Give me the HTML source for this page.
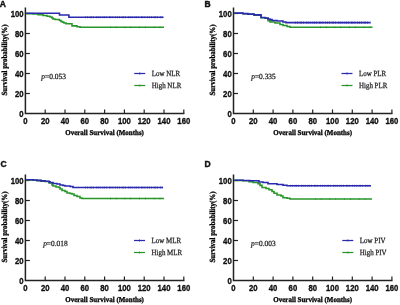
<!DOCTYPE html>
<html><head><meta charset="utf-8">
<style>
html,body{margin:0;padding:0;background:#fff;width:400px;height:305px;overflow:hidden;}
svg{display:block;}
.lg,.ttl{text-rendering:geometricPrecision;}
#w{position:absolute;left:0;top:0;width:400px;height:305px;will-change:transform;}
.tk{font-family:"Liberation Sans",sans-serif;font-weight:bold;font-size:9px;fill:#111;stroke:#111;stroke-width:0.35px;}
.lt{font-family:"Liberation Sans",sans-serif;font-weight:bold;font-size:8.5px;fill:#111;stroke:#111;stroke-width:0.4px;}
.ttl{font-family:"Liberation Serif",serif;font-weight:bold;font-size:7.5px;fill:#000;stroke:#000;stroke-width:0.3px;}
.lg{font-family:"Liberation Serif",serif;font-size:7.9px;fill:#222;stroke:#222;stroke-width:0.25px;}
</style></head><body><div id="w">
<svg width="400" height="305" viewBox="0 0 400 305">
<g>
<g transform="translate(-0.20,6.60) scale(1.0,1)"><text class="lt" x="0" y="0" text-anchor="start">A</text></g>
<path d="M25.4,7.5 V113.5 H184.4" fill="none" stroke="#222" stroke-width="1.5"/>
<g transform="translate(23.60,116.70) scale(0.86,1)"><text class="tk" x="0" y="0" text-anchor="end">0</text></g>
<path d="M25.4,93.5 H29.9" stroke="#222" stroke-width="1.2"/>
<g transform="translate(23.60,96.70) scale(0.86,1)"><text class="tk" x="0" y="0" text-anchor="end">20</text></g>
<path d="M25.4,73.5 H29.9" stroke="#222" stroke-width="1.2"/>
<g transform="translate(23.60,76.70) scale(0.86,1)"><text class="tk" x="0" y="0" text-anchor="end">40</text></g>
<path d="M25.4,53.5 H29.9" stroke="#222" stroke-width="1.2"/>
<g transform="translate(23.60,56.70) scale(0.86,1)"><text class="tk" x="0" y="0" text-anchor="end">60</text></g>
<path d="M25.4,33.5 H29.9" stroke="#222" stroke-width="1.2"/>
<g transform="translate(23.60,36.70) scale(0.86,1)"><text class="tk" x="0" y="0" text-anchor="end">80</text></g>
<path d="M25.4,13.5 H29.9" stroke="#222" stroke-width="1.2"/>
<g transform="translate(23.60,16.70) scale(0.86,1)"><text class="tk" x="0" y="0" text-anchor="end">100</text></g>
<g transform="translate(25.40,123.65) scale(0.86,1)"><text class="tk" x="0" y="0" text-anchor="middle">0</text></g>
<path d="M45.2,113.5 V109.5" stroke="#222" stroke-width="1.2"/>
<g transform="translate(45.20,123.65) scale(0.86,1)"><text class="tk" x="0" y="0" text-anchor="middle">20</text></g>
<path d="M65.0,113.5 V109.5" stroke="#222" stroke-width="1.2"/>
<g transform="translate(65.00,123.65) scale(0.86,1)"><text class="tk" x="0" y="0" text-anchor="middle">40</text></g>
<path d="M84.8,113.5 V109.5" stroke="#222" stroke-width="1.2"/>
<g transform="translate(84.80,123.65) scale(0.86,1)"><text class="tk" x="0" y="0" text-anchor="middle">60</text></g>
<path d="M104.6,113.5 V109.5" stroke="#222" stroke-width="1.2"/>
<g transform="translate(104.60,123.65) scale(0.86,1)"><text class="tk" x="0" y="0" text-anchor="middle">80</text></g>
<path d="M124.4,113.5 V109.5" stroke="#222" stroke-width="1.2"/>
<g transform="translate(124.40,123.65) scale(0.86,1)"><text class="tk" x="0" y="0" text-anchor="middle">100</text></g>
<path d="M144.2,113.5 V109.5" stroke="#222" stroke-width="1.2"/>
<g transform="translate(144.20,123.65) scale(0.86,1)"><text class="tk" x="0" y="0" text-anchor="middle">120</text></g>
<path d="M164.0,113.5 V109.5" stroke="#222" stroke-width="1.2"/>
<g transform="translate(164.00,123.65) scale(0.86,1)"><text class="tk" x="0" y="0" text-anchor="middle">140</text></g>
<path d="M183.8,113.5 V109.5" stroke="#222" stroke-width="1.2"/>
<g transform="translate(183.80,123.65) scale(0.86,1)"><text class="tk" x="0" y="0" text-anchor="middle">160</text></g>
<path d="M26.15,13.6 H33 V14 H38 V14.8 H43 V15.5 H47 V16.3 H50 V17 H52 V18 H53 V19 H55 V19.5 H59.5 V20.5 H61 V21.5 H62.5 V22.3 H64 V23 H66 V23.8 H72 V25.9 H77 V26.8 H80 V27.2 H164" fill="none" stroke="#289628" stroke-width="1.6"/>
<path d="M26.15,13.3 H59.5 V15 H68.9 V17.2 H163.5" fill="none" stroke="#2a2aae" stroke-width="1.6"/>
<path d="M85,17.2 H163.5" fill="none" stroke="#2a2aae" stroke-width="2.1" stroke-dasharray="0.6 1.4 0.6 2.2 0.6 1.0"/>
<path d="M110,27.2 H164" fill="none" stroke="#289628" stroke-width="2.0" stroke-dasharray="0.6 5.3 0.6 8.1"/>
<g transform="translate(104.60,135.10) scale(0.93,1)"><text class="ttl" x="0" y="0" text-anchor="middle">Overall Survival (Months)</text></g>
<g transform="translate(6.90,60.00) rotate(-90) scale(0.875,1)"><text class="ttl" x="0" y="0" text-anchor="middle" style="font-size:7.9px">Survival probability(%)</text></g>
<g transform="translate(41.35,79.00) scale(0.94,1)"><text class="lg" x="0" y="0" text-anchor="start"><tspan font-style="italic">p</tspan>=0.053</text></g>
<path d="M134.25,73.5 H145.25" stroke="#2a2aae" stroke-width="1.25"/>
<path d="M139.75,72.2 V74.8" stroke="#2a2aae" stroke-width="0.6"/>
<path d="M134.25,85.5 H145.25" stroke="#289628" stroke-width="1.25"/>
<path d="M139.75,84.3 V86.7" stroke="#289628" stroke-width="0.6"/>
<g transform="translate(151.75,76.10) scale(0.88,1)"><text class="lg" x="0" y="0" text-anchor="start">Low NLR</text></g>
<g transform="translate(151.75,88.10) scale(0.88,1)"><text class="lg" x="0" y="0" text-anchor="start">High NLR</text></g>
</g>
<g>
<g transform="translate(204.40,6.70) scale(1.0,1)"><text class="lt" x="0" y="0" text-anchor="start">B</text></g>
<path d="M233.5,7.5 V113.5 H392.5" fill="none" stroke="#222" stroke-width="1.5"/>
<g transform="translate(231.70,116.70) scale(0.86,1)"><text class="tk" x="0" y="0" text-anchor="end">0</text></g>
<path d="M233.5,93.5 H238.0" stroke="#222" stroke-width="1.2"/>
<g transform="translate(231.70,96.70) scale(0.86,1)"><text class="tk" x="0" y="0" text-anchor="end">20</text></g>
<path d="M233.5,73.5 H238.0" stroke="#222" stroke-width="1.2"/>
<g transform="translate(231.70,76.70) scale(0.86,1)"><text class="tk" x="0" y="0" text-anchor="end">40</text></g>
<path d="M233.5,53.5 H238.0" stroke="#222" stroke-width="1.2"/>
<g transform="translate(231.70,56.70) scale(0.86,1)"><text class="tk" x="0" y="0" text-anchor="end">60</text></g>
<path d="M233.5,33.5 H238.0" stroke="#222" stroke-width="1.2"/>
<g transform="translate(231.70,36.70) scale(0.86,1)"><text class="tk" x="0" y="0" text-anchor="end">80</text></g>
<path d="M233.5,13.5 H238.0" stroke="#222" stroke-width="1.2"/>
<g transform="translate(231.70,16.70) scale(0.86,1)"><text class="tk" x="0" y="0" text-anchor="end">100</text></g>
<g transform="translate(233.50,123.65) scale(0.86,1)"><text class="tk" x="0" y="0" text-anchor="middle">0</text></g>
<path d="M253.3,113.5 V109.5" stroke="#222" stroke-width="1.2"/>
<g transform="translate(253.30,123.65) scale(0.86,1)"><text class="tk" x="0" y="0" text-anchor="middle">20</text></g>
<path d="M273.1,113.5 V109.5" stroke="#222" stroke-width="1.2"/>
<g transform="translate(273.10,123.65) scale(0.86,1)"><text class="tk" x="0" y="0" text-anchor="middle">40</text></g>
<path d="M292.9,113.5 V109.5" stroke="#222" stroke-width="1.2"/>
<g transform="translate(292.90,123.65) scale(0.86,1)"><text class="tk" x="0" y="0" text-anchor="middle">60</text></g>
<path d="M312.7,113.5 V109.5" stroke="#222" stroke-width="1.2"/>
<g transform="translate(312.70,123.65) scale(0.86,1)"><text class="tk" x="0" y="0" text-anchor="middle">80</text></g>
<path d="M332.5,113.5 V109.5" stroke="#222" stroke-width="1.2"/>
<g transform="translate(332.50,123.65) scale(0.86,1)"><text class="tk" x="0" y="0" text-anchor="middle">100</text></g>
<path d="M352.3,113.5 V109.5" stroke="#222" stroke-width="1.2"/>
<g transform="translate(352.30,123.65) scale(0.86,1)"><text class="tk" x="0" y="0" text-anchor="middle">120</text></g>
<path d="M372.1,113.5 V109.5" stroke="#222" stroke-width="1.2"/>
<g transform="translate(372.10,123.65) scale(0.86,1)"><text class="tk" x="0" y="0" text-anchor="middle">140</text></g>
<path d="M391.9,113.5 V109.5" stroke="#222" stroke-width="1.2"/>
<g transform="translate(391.90,123.65) scale(0.86,1)"><text class="tk" x="0" y="0" text-anchor="middle">160</text></g>
<path d="M234.25,13.3 H243 V13.8 H248 V14.3 H254 V15.1 H261 V17.7 H265 V18.3 H268 V20.8 H270 V22 H275 V23 H280 V24.5 H283 V25.5 H287 V26.5 H290 V27.2 H372.5" fill="none" stroke="#289628" stroke-width="1.6"/>
<path d="M234.25,13.1 H243 V13.6 H248 V14.1 H254 V14.9 H261 V17.5 H265 V18 H268 V19 H270 V19.6 H272 V20.5 H277 V21 H283 V22 H286 V22.6 H370.5" fill="none" stroke="#2a2aae" stroke-width="1.6"/>
<path d="M295,22.6 H370.5" fill="none" stroke="#2a2aae" stroke-width="2.1" stroke-dasharray="0.6 1.4 0.6 2.2 0.6 1.0"/>
<path d="M320,27.2 H372.5" fill="none" stroke="#289628" stroke-width="2.0" stroke-dasharray="0.6 5.3 0.6 8.1"/>
<g transform="translate(312.70,135.10) scale(0.93,1)"><text class="ttl" x="0" y="0" text-anchor="middle">Overall Survival (Months)</text></g>
<g transform="translate(215.00,60.00) rotate(-90) scale(0.875,1)"><text class="ttl" x="0" y="0" text-anchor="middle" style="font-size:7.9px">Survival probability(%)</text></g>
<g transform="translate(251.20,79.00) scale(0.94,1)"><text class="lg" x="0" y="0" text-anchor="start"><tspan font-style="italic">p</tspan>=0.335</text></g>
<path d="M341.5,73.5 H352.5" stroke="#2a2aae" stroke-width="1.25"/>
<path d="M347.0,72.2 V74.8" stroke="#2a2aae" stroke-width="0.6"/>
<path d="M341.5,85.5 H352.5" stroke="#289628" stroke-width="1.25"/>
<path d="M347.0,84.3 V86.7" stroke="#289628" stroke-width="0.6"/>
<g transform="translate(359.00,76.10) scale(0.88,1)"><text class="lg" x="0" y="0" text-anchor="start">Low PLR</text></g>
<g transform="translate(359.00,88.10) scale(0.88,1)"><text class="lg" x="0" y="0" text-anchor="start">High PLR</text></g>
</g>
<g>
<g transform="translate(0.50,166.60) scale(1.0,1)"><text class="lt" x="0" y="0" text-anchor="start">C</text></g>
<path d="M25.4,174.5 V280.5 H184.4" fill="none" stroke="#222" stroke-width="1.5"/>
<g transform="translate(23.60,283.70) scale(0.86,1)"><text class="tk" x="0" y="0" text-anchor="end">0</text></g>
<path d="M25.4,260.5 H29.9" stroke="#222" stroke-width="1.2"/>
<g transform="translate(23.60,263.70) scale(0.86,1)"><text class="tk" x="0" y="0" text-anchor="end">20</text></g>
<path d="M25.4,240.5 H29.9" stroke="#222" stroke-width="1.2"/>
<g transform="translate(23.60,243.70) scale(0.86,1)"><text class="tk" x="0" y="0" text-anchor="end">40</text></g>
<path d="M25.4,220.5 H29.9" stroke="#222" stroke-width="1.2"/>
<g transform="translate(23.60,223.70) scale(0.86,1)"><text class="tk" x="0" y="0" text-anchor="end">60</text></g>
<path d="M25.4,200.5 H29.9" stroke="#222" stroke-width="1.2"/>
<g transform="translate(23.60,203.70) scale(0.86,1)"><text class="tk" x="0" y="0" text-anchor="end">80</text></g>
<path d="M25.4,180.5 H29.9" stroke="#222" stroke-width="1.2"/>
<g transform="translate(23.60,183.70) scale(0.86,1)"><text class="tk" x="0" y="0" text-anchor="end">100</text></g>
<g transform="translate(25.40,290.65) scale(0.86,1)"><text class="tk" x="0" y="0" text-anchor="middle">0</text></g>
<path d="M45.2,280.5 V276.5" stroke="#222" stroke-width="1.2"/>
<g transform="translate(45.20,290.65) scale(0.86,1)"><text class="tk" x="0" y="0" text-anchor="middle">20</text></g>
<path d="M65.0,280.5 V276.5" stroke="#222" stroke-width="1.2"/>
<g transform="translate(65.00,290.65) scale(0.86,1)"><text class="tk" x="0" y="0" text-anchor="middle">40</text></g>
<path d="M84.8,280.5 V276.5" stroke="#222" stroke-width="1.2"/>
<g transform="translate(84.80,290.65) scale(0.86,1)"><text class="tk" x="0" y="0" text-anchor="middle">60</text></g>
<path d="M104.6,280.5 V276.5" stroke="#222" stroke-width="1.2"/>
<g transform="translate(104.60,290.65) scale(0.86,1)"><text class="tk" x="0" y="0" text-anchor="middle">80</text></g>
<path d="M124.4,280.5 V276.5" stroke="#222" stroke-width="1.2"/>
<g transform="translate(124.40,290.65) scale(0.86,1)"><text class="tk" x="0" y="0" text-anchor="middle">100</text></g>
<path d="M144.2,280.5 V276.5" stroke="#222" stroke-width="1.2"/>
<g transform="translate(144.20,290.65) scale(0.86,1)"><text class="tk" x="0" y="0" text-anchor="middle">120</text></g>
<path d="M164.0,280.5 V276.5" stroke="#222" stroke-width="1.2"/>
<g transform="translate(164.00,290.65) scale(0.86,1)"><text class="tk" x="0" y="0" text-anchor="middle">140</text></g>
<path d="M183.8,280.5 V276.5" stroke="#222" stroke-width="1.2"/>
<g transform="translate(183.80,290.65) scale(0.86,1)"><text class="tk" x="0" y="0" text-anchor="middle">160</text></g>
<path d="M26.15,179.9 H33 V180.2 H37 V180.6 H41 V181.1 H45 V181.5 H49 V183 H52 V185 H53 V186 H56 V187 H59 V187.5 H60 V189 H62 V190.5 H65 V191.5 H67 V193 H70 V193.5 H72 V194 H74 V195.5 H77 V196.5 H80 V198 H82 V198.5 H164" fill="none" stroke="#289628" stroke-width="1.6"/>
<path d="M26.15,179.7 H33 V180 H37 V180.4 H41 V180.9 H45 V181.3 H49 V181.9 H50 V182.5 H53 V183.5 H57 V184 H60 V185 H63 V185.5 H65 V186 H70 V186.5 H73 V187.5 H163" fill="none" stroke="#2a2aae" stroke-width="1.6"/>
<path d="M85,187.5 H163" fill="none" stroke="#2a2aae" stroke-width="2.1" stroke-dasharray="0.6 1.4 0.6 2.2 0.6 1.0"/>
<path d="M110,198.5 H164" fill="none" stroke="#289628" stroke-width="2.0" stroke-dasharray="0.6 5.3 0.6 8.1"/>
<g transform="translate(104.60,302.10) scale(0.93,1)"><text class="ttl" x="0" y="0" text-anchor="middle">Overall Survival (Months)</text></g>
<g transform="translate(6.90,227.00) rotate(-90) scale(0.875,1)"><text class="ttl" x="0" y="0" text-anchor="middle" style="font-size:7.9px">Survival probability(%)</text></g>
<g transform="translate(43.15,246.00) scale(0.94,1)"><text class="lg" x="0" y="0" text-anchor="start"><tspan font-style="italic">p</tspan>=0.018</text></g>
<path d="M134,240.5 H145" stroke="#2a2aae" stroke-width="1.25"/>
<path d="M139.5,239.2 V241.8" stroke="#2a2aae" stroke-width="0.6"/>
<path d="M134,252.5 H145" stroke="#289628" stroke-width="1.25"/>
<path d="M139.5,251.3 V253.7" stroke="#289628" stroke-width="0.6"/>
<g transform="translate(151.50,243.10) scale(0.88,1)"><text class="lg" x="0" y="0" text-anchor="start">Low MLR</text></g>
<g transform="translate(151.50,255.10) scale(0.88,1)"><text class="lg" x="0" y="0" text-anchor="start">High MLR</text></g>
</g>
<g>
<g transform="translate(204.40,166.60) scale(1.0,1)"><text class="lt" x="0" y="0" text-anchor="start">D</text></g>
<path d="M233.5,174.5 V280.5 H392.5" fill="none" stroke="#222" stroke-width="1.5"/>
<g transform="translate(231.70,283.70) scale(0.86,1)"><text class="tk" x="0" y="0" text-anchor="end">0</text></g>
<path d="M233.5,260.5 H238.0" stroke="#222" stroke-width="1.2"/>
<g transform="translate(231.70,263.70) scale(0.86,1)"><text class="tk" x="0" y="0" text-anchor="end">20</text></g>
<path d="M233.5,240.5 H238.0" stroke="#222" stroke-width="1.2"/>
<g transform="translate(231.70,243.70) scale(0.86,1)"><text class="tk" x="0" y="0" text-anchor="end">40</text></g>
<path d="M233.5,220.5 H238.0" stroke="#222" stroke-width="1.2"/>
<g transform="translate(231.70,223.70) scale(0.86,1)"><text class="tk" x="0" y="0" text-anchor="end">60</text></g>
<path d="M233.5,200.5 H238.0" stroke="#222" stroke-width="1.2"/>
<g transform="translate(231.70,203.70) scale(0.86,1)"><text class="tk" x="0" y="0" text-anchor="end">80</text></g>
<path d="M233.5,180.5 H238.0" stroke="#222" stroke-width="1.2"/>
<g transform="translate(231.70,183.70) scale(0.86,1)"><text class="tk" x="0" y="0" text-anchor="end">100</text></g>
<g transform="translate(233.50,290.65) scale(0.86,1)"><text class="tk" x="0" y="0" text-anchor="middle">0</text></g>
<path d="M253.3,280.5 V276.5" stroke="#222" stroke-width="1.2"/>
<g transform="translate(253.30,290.65) scale(0.86,1)"><text class="tk" x="0" y="0" text-anchor="middle">20</text></g>
<path d="M273.1,280.5 V276.5" stroke="#222" stroke-width="1.2"/>
<g transform="translate(273.10,290.65) scale(0.86,1)"><text class="tk" x="0" y="0" text-anchor="middle">40</text></g>
<path d="M292.9,280.5 V276.5" stroke="#222" stroke-width="1.2"/>
<g transform="translate(292.90,290.65) scale(0.86,1)"><text class="tk" x="0" y="0" text-anchor="middle">60</text></g>
<path d="M312.7,280.5 V276.5" stroke="#222" stroke-width="1.2"/>
<g transform="translate(312.70,290.65) scale(0.86,1)"><text class="tk" x="0" y="0" text-anchor="middle">80</text></g>
<path d="M332.5,280.5 V276.5" stroke="#222" stroke-width="1.2"/>
<g transform="translate(332.50,290.65) scale(0.86,1)"><text class="tk" x="0" y="0" text-anchor="middle">100</text></g>
<path d="M352.3,280.5 V276.5" stroke="#222" stroke-width="1.2"/>
<g transform="translate(352.30,290.65) scale(0.86,1)"><text class="tk" x="0" y="0" text-anchor="middle">120</text></g>
<path d="M372.1,280.5 V276.5" stroke="#222" stroke-width="1.2"/>
<g transform="translate(372.10,290.65) scale(0.86,1)"><text class="tk" x="0" y="0" text-anchor="middle">140</text></g>
<path d="M391.9,280.5 V276.5" stroke="#222" stroke-width="1.2"/>
<g transform="translate(391.90,290.65) scale(0.86,1)"><text class="tk" x="0" y="0" text-anchor="middle">160</text></g>
<path d="M234.25,180.4 H243 V180.7 H249 V181.6 H253 V182.5 H258 V183.7 H260 V185.4 H262 V187.5 H266 V188.5 H269 V189.7 H272 V191.5 H274 V193.3 H277 V195 H281 V196 H283 V197.8 H287 V198.3 H290 V199 H372" fill="none" stroke="#289628" stroke-width="1.6"/>
<path d="M234.25,180.2 H243 V180.5 H250 V180.8 H259 V182 H263 V182.5 H268 V183.7 H277 V184.5 H283 V185.3 H287 V185.8 H371" fill="none" stroke="#2a2aae" stroke-width="1.6"/>
<path d="M290,185.8 H371" fill="none" stroke="#2a2aae" stroke-width="2.1" stroke-dasharray="0.6 1.4 0.6 2.2 0.6 1.0"/>
<path d="M315,199 H372" fill="none" stroke="#289628" stroke-width="2.0" stroke-dasharray="0.6 5.3 0.6 8.1"/>
<g transform="translate(312.70,302.10) scale(0.93,1)"><text class="ttl" x="0" y="0" text-anchor="middle">Overall Survival (Months)</text></g>
<g transform="translate(215.00,227.00) rotate(-90) scale(0.875,1)"><text class="ttl" x="0" y="0" text-anchor="middle" style="font-size:7.9px">Survival probability(%)</text></g>
<g transform="translate(251.10,246.00) scale(0.94,1)"><text class="lg" x="0" y="0" text-anchor="start"><tspan font-style="italic">p</tspan>=0.003</text></g>
<path d="M342.3,240.5 H353.3" stroke="#2a2aae" stroke-width="1.25"/>
<path d="M347.8,239.2 V241.8" stroke="#2a2aae" stroke-width="0.6"/>
<path d="M342.3,252.5 H353.3" stroke="#289628" stroke-width="1.25"/>
<path d="M347.8,251.3 V253.7" stroke="#289628" stroke-width="0.6"/>
<g transform="translate(359.80,243.10) scale(0.88,1)"><text class="lg" x="0" y="0" text-anchor="start">Low PIV</text></g>
<g transform="translate(359.80,255.10) scale(0.88,1)"><text class="lg" x="0" y="0" text-anchor="start">High PIV</text></g>
</g>
</svg></div>
</body></html>
